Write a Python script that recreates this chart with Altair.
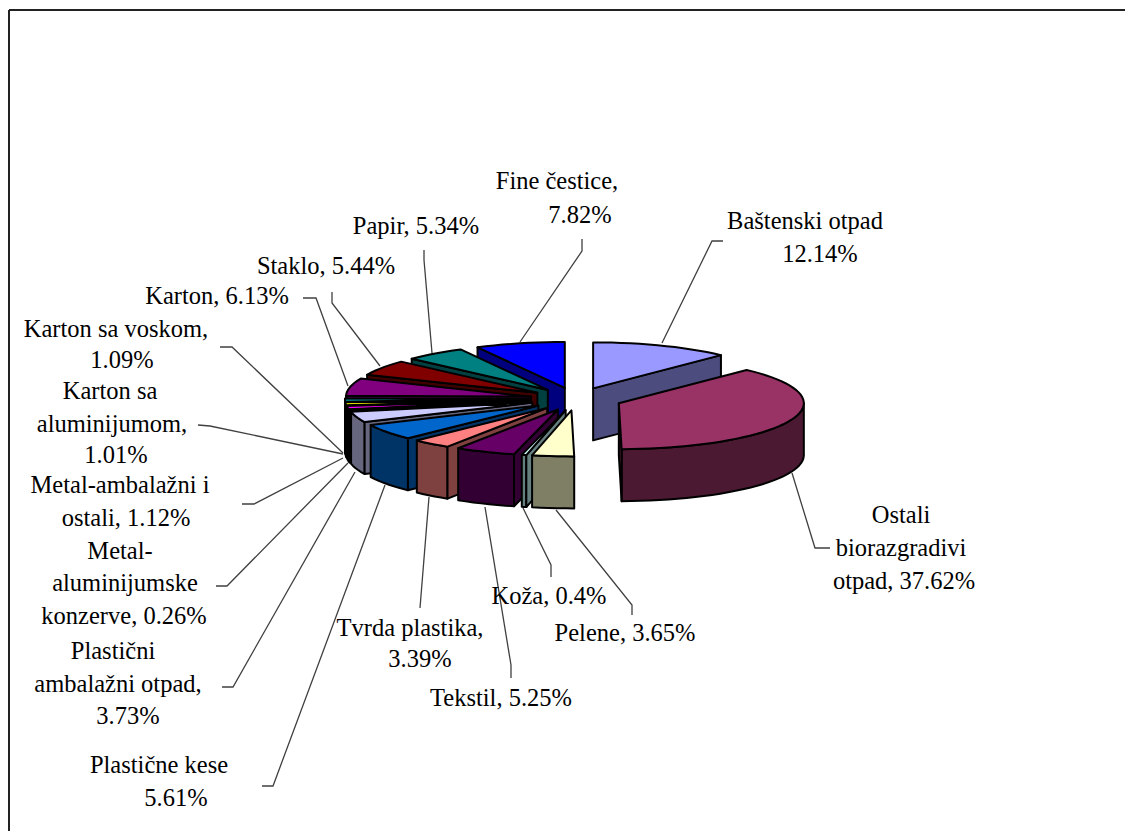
import math
import altair as alt

# ---- chart data -------------------------------------------------------
names = ["Baštenski otpad", "Ostali biorazgradivi otpad", "Pelene", "Koža", "Tekstil",
         "Tvrda plastika", "Plastične kese", "Plastični ambalažni otpad",
         "Metal-aluminijumske konzerve", "Metal-ambalažni i ostali",
         "Karton sa aluminijumom", "Karton sa voskom", "Karton", "Staklo", "Papir",
         "Fine čestice"]
values = [12.14, 37.62, 3.65, 0.4, 5.25, 3.39, 5.61, 3.73, 0.26, 1.12, 1.01, 1.09,
          6.13, 5.44, 5.34, 7.82]
colors = ["#9999FF", "#993366", "#FFFFCC", "#CCFFFF", "#660066", "#FF8080", "#0066CC",
          "#CCCCFF", "#000080", "#FF00FF", "#FFFF00", "#00FFFF", "#800080", "#800000",
          "#008080", "#0000FF"]

label_texts = ["Fine čestice,", "7.82%", "Baštenski otpad", "12.14%", "Papir, 5.34%",
               "Staklo, 5.44%", "Karton, 6.13%", "Karton sa voskom,", "1.09%", "Karton sa",
               "aluminijumom,", "1.01%", "Metal-ambalažni i", "ostali, 1.12%", "Metal-",
               "aluminijumske", "konzerve, 0.26%", "Plastični", "ambalažni otpad,", "3.73%",
               "Plastične kese", "5.61%", "Tvrda plastika,", "3.39%", "Tekstil, 5.25%",
               "Koža, 0.4%", "Pelene, 3.65%", "Ostali", "biorazgradivi", "otpad, 37.62%"]

# ---- layout (page pixels) ---------------------------------------------
OFFSET = 8
label_x = [557, 580, 805, 820, 416, 326, 217, 116, 122, 110, 112, 116, 120, 126, 120, 125,
           124, 113, 118, 128, 159, 176, 410, 420, 501, 549, 625, 901, 901, 904]
label_y = [182, 216, 222, 255, 227, 267, 297, 330, 361, 392, 425, 456, 486, 519, 552, 584,
           617, 652, 685, 717, 766, 799, 629, 660, 699, 597, 634, 516, 549, 582]
leaders = [
    [(723, 241), (712, 241), (662, 343)],
    [(830, 548), (815, 548), (792, 473)],
    [(632, 615), (632, 605), (556, 510)],
    [(551, 577), (551, 565), (523, 508)],
    [(511, 678), (511, 665), (485, 507)],
    [(420, 608), (429, 497)],
    [(262, 786), (273, 786), (385, 485)],
    [(222, 687), (233, 687), (355, 472)],
    [(216, 586), (227, 586), (348, 463)],
    [(242, 504), (254, 504), (343, 458)],
    [(198, 425), (210, 426), (343, 454)],
    [(220, 347), (232, 347), (343, 453)],
    [(303, 298), (316, 298), (348, 386)],
    [(332, 292), (332, 303), (380, 366)],
    [(424, 250), (424, 260), (432, 353)],
    [(582, 239), (582, 251), (520, 342)],
]
frame_lines = [[(9, 10), (1125, 10)], [(9, 10), (9, 831)]]

CX, CY = 576, 399      # common pie centre
A, B = 185, 46         # ellipse radii of the tilted top
EXPLODE = 46           # distance each slice is pulled out
DEPTH = 52             # thickness of the pie


def pt(x, y):
    return [x - OFFSET, y - OFFSET]


def darker(hex_color):
    r, g, b = (int(hex_color[i:i + 2], 16) for i in (1, 3, 5))
    return "#%02X%02X%02X" % (r // 2, g // 2, b // 2)


def rim_point(ax, ay, deg):
    t = math.radians(deg)
    return ax + A * math.sin(t), ay - B * math.cos(t)


def feature(points, fill):
    ring = [pt(*p) for p in points]
    ring.append(ring[0])
    return {"type": "Feature", "properties": {"fill": fill},
            "geometry": {"type": "Polygon", "coordinates": [ring]}}


total = sum(values)
slices = []
start = 0.0
for name, value, color in zip(names, values, colors):
    end = start + 360 * value / total
    mid = math.radians((start + end) / 2)
    ax = CX + EXPLODE * math.sin(mid)
    ay = CY - EXPLODE * (B / A) * math.cos(mid)
    slices.append((math.cos(mid), ax, ay, start, end, color))
    start = end

polys = []
for _, ax, ay, a0, a1, color in sorted(slices, key=lambda s: -s[0]):
    side = darker(color)
    n = max(2, int((a1 - a0) / 3) + 1)
    angles = [a0 + (a1 - a0) * i / n for i in range(n + 1)]
    arc = [rim_point(ax, ay, d) for d in angles]
    mx, my = rim_point(ax, ay, (a0 + a1) / 2)
    mx, my = (mx + ax) / 2, (my + ay) / 2
    # outer wall: only the part facing the viewer
    front = [d for d in angles if 90 <= d <= 270]
    if a0 < 90 < a1:
        front = [90] + front
    if a0 < 270 < a1:
        front = front + [270]
    if len(front) >= 2:
        top_edge = [rim_point(ax, ay, d) for d in front]
        bottom_edge = [(x, y + DEPTH) for x, y in reversed(top_edge)]
        polys.append(feature(top_edge + bottom_edge, side))
    # cut faces: only those with the slice's top above them
    for deg in (a0, a1):
        px, py = rim_point(ax, ay, deg)
        ex, ey = px - ax, py - ay
        if ex * (ex * (my - ay) - ey * (mx - ax)) < 0:
            polys.append(feature([(ax, ay), (px, py), (px, py + DEPTH), (ax, ay + DEPTH)], side))
    polys.append(feature([(ax, ay)] + arc, color))


def line_features(lines):
    return [{"type": "Feature", "properties": {},
             "geometry": {"type": "LineString", "coordinates": [pt(*p) for p in line]}}
            for line in lines]


labels = [{"text": t, "lon": x - OFFSET, "lat": y - OFFSET}
          for t, x, y in zip(label_texts, label_x, label_y)]

proj = dict(type="identity", scale=1, translate=[0, 0])

frame = alt.Chart(alt.Data(values=line_features(frame_lines))).mark_geoshape(
    filled=False, stroke="#222222", strokeWidth=2).project(**proj)
leader_layer = alt.Chart(alt.Data(values=line_features(leaders))).mark_geoshape(
    filled=False, stroke="#404040", strokeWidth=1.3).project(**proj)
pie = alt.Chart(alt.Data(values=polys)).mark_geoshape(
    stroke="#000000", strokeWidth=2, strokeJoin="round").encode(
    fill=alt.Fill("properties.fill:N", scale=None)).project(**proj)
text = alt.Chart(alt.Data(values=labels)).mark_text(
    font="Liberation Serif", fontSize=24.5, color="#000000", align="center", baseline="middle").encode(
    longitude="lon:Q", latitude="lat:Q", text="text:N").project(**proj)

chart = alt.layer(frame, leader_layer, pie, text).properties(
    width=1117, height=823, padding=0,
    autosize=alt.AutoSizeParams(type="none"),
    background="white",
).configure_view(stroke=None)

chart.save("out.html", embed_options={"renderer": "svg", "actions": False})
